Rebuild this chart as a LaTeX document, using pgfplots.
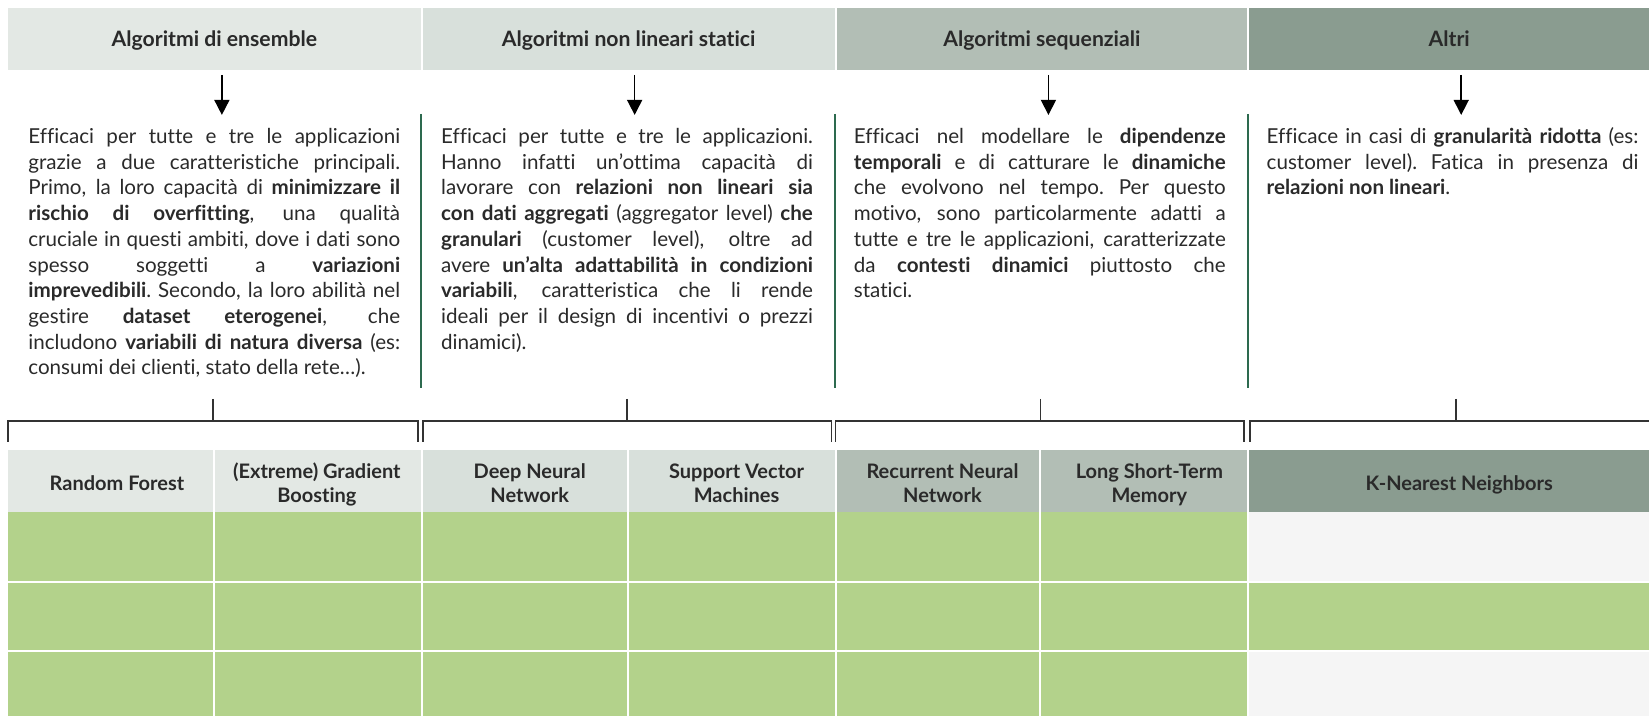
\documentclass[border=0pt]{standalone}
\usepackage{fontspec}
\setmainfont{Lato}[Ligatures=NoCommon]
\usepackage{pgfplots}
\pgfplotsset{compat=1.18}
\usetikzlibrary{arrows.meta}
\definecolor{hA}{HTML}{E3E8E4}
\definecolor{hB}{HTML}{D8E0DB}
\definecolor{hC}{HTML}{B2BEB5}
\definecolor{hD}{HTML}{8A9C90}
\definecolor{gcell}{HTML}{B3D28B}
\definecolor{ecell}{HTML}{F5F5F5}
\definecolor{vline}{HTML}{2D6A4F}
\definecolor{brk}{HTML}{333333}
\definecolor{txt}{HTML}{2A2A2A}
\hbadness=10000 \hfuzz=4pt
\newcommand\jl[1]{\hbox to 186pt{\spaceskip=\fontdimen2\font plus 1\fontdimen2\font minus .6\fontdimen2\font\xspaceskip=\spaceskip\relax #1}}
\newcommand\lastl[1]{\hbox{\xspaceskip=\fontdimen2\font\relax #1}}
\newcommand\twol[2]{\vtop{\baselineskip=12pt\hbox to 0pt{\hss#1\hss}\hbox to 0pt{\hss#2\hss}}}
\newcommand\cell[5]{\addplot[fill=#5, draw=none] coordinates {(#1,#3) (#2,#3) (#2,#4) (#1,#4)} -- cycle;}
\begin{document}
\begin{tikzpicture}
\begin{axis}[scale only axis, width=825pt, height=358pt,
  xmin=0, xmax=1650, ymin=0, ymax=716, y dir=reverse,
  axis lines=none, clip=false]
% background
\cell{0}{1650}{0}{716}{white}
% top headers
\cell{8}{421}{8}{70}{hA}
\cell{423}{835}{8}{70}{hB}
\cell{837}{1248}{8}{70}{hC}
\cell{1250}{1650}{8}{70}{hD}
% table header row
\cell{8}{213}{450}{512.5}{hA}
\cell{215}{421}{450}{512.5}{hA}
\cell{423}{627}{450}{512.5}{hB}
\cell{629}{835}{450}{512.5}{hB}
\cell{837}{1040}{450}{512.5}{hC}
\cell{1042}{1248}{450}{512.5}{hC}
\cell{1250}{1650}{450}{512.5}{hD}
% row 1
\cell{8}{213}{512.5}{581}{gcell}
\cell{215}{421}{512.5}{581}{gcell}
\cell{423}{627}{512.5}{581}{gcell}
\cell{629}{835}{512.5}{581}{gcell}
\cell{837}{1040}{512.5}{581}{gcell}
\cell{1042}{1248}{512.5}{581}{gcell}
\cell{1250}{1650}{512.5}{581}{ecell}
% row 2
\cell{8}{213}{583}{650}{gcell}
\cell{215}{421}{583}{650}{gcell}
\cell{423}{627}{583}{650}{gcell}
\cell{629}{835}{583}{650}{gcell}
\cell{837}{1040}{583}{650}{gcell}
\cell{1042}{1248}{583}{650}{gcell}
\cell{1250}{1650}{583}{650}{gcell}
% row 3
\cell{8}{213}{652}{716}{gcell}
\cell{215}{421}{652}{716}{gcell}
\cell{423}{627}{652}{716}{gcell}
\cell{629}{835}{652}{716}{gcell}
\cell{837}{1040}{652}{716}{gcell}
\cell{1042}{1248}{652}{716}{gcell}
\cell{1250}{1650}{652}{716}{ecell}
% arrows
\addplot[black, line width=0.8pt, -{Triangle[length=7.5pt,width=7.5pt]}] coordinates {(222,75) (222,115)};
\addplot[black, line width=0.8pt, -{Triangle[length=7.5pt,width=7.5pt]}] coordinates {(635,75) (635,115)};
\addplot[black, line width=0.8pt, -{Triangle[length=7.5pt,width=7.5pt]}] coordinates {(1049,75) (1049,115)};
\addplot[black, line width=0.8pt, -{Triangle[length=7.5pt,width=7.5pt]}] coordinates {(1462,75) (1462,115)};
% green separators
\addplot[vline, line width=1pt] coordinates {(421.5,114) (421.5,388)};
\addplot[vline, line width=1pt] coordinates {(835,114) (835,388)};
\addplot[vline, line width=1pt] coordinates {(1249,114) (1249,388)};
% brackets
\addplot[brk, line width=0.9pt] coordinates {(8,442) (8,421) (418,421) (418,442)};
\addplot[brk, line width=0.9pt] coordinates {(213,399) (213,421)};
\addplot[brk, line width=0.9pt] coordinates {(423.5,442) (423.5,421) (832,421) (832,442)};
\addplot[brk, line width=0.9pt] coordinates {(627,399) (627,421)};
\addplot[brk, line width=0.9pt] coordinates {(836,442) (836,421) (1245,421) (1245,442)};
\addplot[brk, line width=0.9pt] coordinates {(1041,399) (1041,421)};
\addplot[brk, line width=0.9pt] coordinates {(1250.5,442) (1250.5,421) (1650,421)};
\addplot[brk, line width=0.9pt] coordinates {(1457,399) (1457,421)};
% header titles
\node[anchor=base, inner sep=0, text=txt, font=\bfseries\fontsize{10.6}{12}\selectfont] at (axis cs:214.5,47) {Algoritmi di ensemble};
\node[anchor=base, inner sep=0, text=txt, font=\bfseries\fontsize{10.6}{12}\selectfont] at (axis cs:629,47) {Algoritmi non lineari statici};
\node[anchor=base, inner sep=0, text=txt, font=\bfseries\fontsize{10.6}{12}\selectfont] at (axis cs:1042.5,47) {Algoritmi sequenziali};
\node[anchor=base, inner sep=0, text=txt, font=\bfseries\fontsize{10.6}{12}\selectfont] at (axis cs:1450,47) {Altri};
% table header labels
\node[anchor=base, inner sep=0, text=txt, font=\bfseries\fontsize{10}{12}\selectfont] at (axis cs:117,491) {Random Forest};
\node[anchor=base, inner sep=0, text=txt, font=\bfseries\fontsize{10}{12}\selectfont] at (axis cs:317,479) {\twol{(Extreme) Gradient}{Boosting}};
\node[anchor=base, inner sep=0, text=txt, font=\bfseries\fontsize{10}{12}\selectfont] at (axis cs:530,479) {\twol{Deep Neural}{Network}};
\node[anchor=base, inner sep=0, text=txt, font=\bfseries\fontsize{10}{12}\selectfont] at (axis cs:737,479) {\twol{Support Vector}{Machines}};
\node[anchor=base, inner sep=0, text=txt, font=\bfseries\fontsize{10}{12}\selectfont] at (axis cs:943,479) {\twol{Recurrent Neural}{Network}};
\node[anchor=base, inner sep=0, text=txt, font=\bfseries\fontsize{10}{12}\selectfont] at (axis cs:1150,479) {\twol{Long Short-Term}{Memory}};
\node[anchor=base, inner sep=0, text=txt, font=\bfseries\fontsize{10}{12}\selectfont] at (axis cs:1460,491) {K-Nearest Neighbors};
% body texts
\node[anchor=base west, inner sep=0, text=txt, font=\fontsize{10.3}{12.87}\selectfont] at (axis cs:28,143.5) {\vtop{\baselineskip=12.87pt
\jl{Efficaci per tutte e tre le applicazioni}
\jl{grazie a due caratteristiche principali.}
\jl{Primo, la loro capacità di \textbf{minimizzare il}}
\jl{\textbf{rischio di overfitting}, una qualità}
\jl{cruciale in questi ambiti, dove i dati sono}
\jl{spesso soggetti a \textbf{variazioni}}
\jl{\textbf{imprevedibili}. Secondo, la loro abilità nel}
\jl{gestire \textbf{dataset eterogenei}, che}
\jl{includono \textbf{variabili di natura diversa} (es:}
\lastl{consumi dei clienti, stato della rete…).}}};
\node[anchor=base west, inner sep=0, text=txt, font=\fontsize{10.3}{12.87}\selectfont] at (axis cs:441,143.5) {\vtop{\baselineskip=12.87pt
\jl{Efficaci per tutte e tre le applicazioni.}
\jl{Hanno infatti un’ottima capacità di}
\jl{lavorare con \textbf{relazioni non lineari sia}}
\jl{\textbf{con dati aggregati} (aggregator level) \textbf{che}}
\jl{\textbf{granulari} (customer level), oltre ad}
\jl{avere \textbf{un’alta adattabilità in condizioni}}
\jl{\textbf{variabili}, caratteristica che li rende}
\jl{ideali per il design di incentivi o prezzi}
\lastl{dinamici).}}};
\node[anchor=base west, inner sep=0, text=txt, font=\fontsize{10.3}{12.87}\selectfont] at (axis cs:854,143.5) {\vtop{\baselineskip=12.87pt
\jl{Efficaci nel modellare le \textbf{dipendenze}}
\jl{\textbf{temporali} e di catturare le \textbf{dinamiche}}
\jl{che evolvono nel tempo. Per questo}
\jl{motivo, sono particolarmente adatti a}
\jl{tutte e tre le applicazioni, caratterizzate}
\jl{da \textbf{contesti dinamici} piuttosto che}
\lastl{statici.}}};
\node[anchor=base west, inner sep=0, text=txt, font=\fontsize{10.3}{12.87}\selectfont] at (axis cs:1267,143.5) {\vtop{\baselineskip=12.87pt
\jl{Efficace in casi di \textbf{granularità ridotta} (es:}
\jl{customer level). Fatica in presenza di}
\lastl{\textbf{relazioni non lineari}.}}};
\end{axis}
\end{tikzpicture}
\end{document}
